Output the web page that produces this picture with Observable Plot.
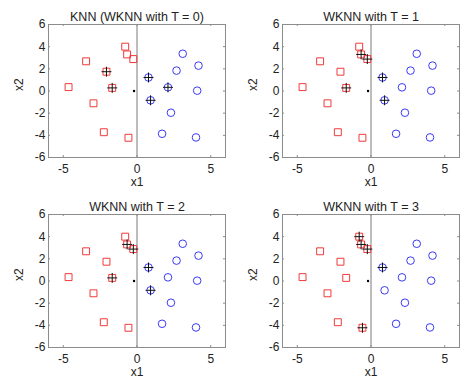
<!DOCTYPE html>
<html><head><meta charset="utf-8">
<script src="https://cdn.jsdelivr.net/npm/d3@7"></script>
<script src="https://cdn.jsdelivr.net/npm/@observablehq/plot@0.6"></script>
<style>
html,body{margin:0;padding:0;background:#fff;overflow:hidden;}
#wrap{position:relative;width:463px;height:380px;background:#fff;}
#wrap > svg{position:absolute;}
</style></head><body><div id="wrap"></div>
<script>
// Class 1 (red squares)
const redX = [-0.80, -0.67, -0.25, -3.45, -2.07, -1.68, -4.64, -2.95, -2.25, -0.58];
const redY = [ 4.00,  3.30,  2.88,  2.68,  1.74,  0.28,  0.35, -1.11, -3.72, -4.22];
// Class 2 (blue circles)
const blueX = [3.10, 4.17, 2.68, 0.78, 2.10, 4.08, 0.92, 2.30, 1.70, 4.00];
const blueY = [3.36, 2.29, 1.84, 1.22, 0.33, 0.03, -0.84, -1.96, -3.86, -4.19];
// Query point and decision boundary
const queryX = [-0.2];
const queryY = [0];
const boundaryX = [0];
// Panels
const titles = ["KNN (WKNN with T = 0)", "WKNN with T = 1", "WKNN with T = 2", "WKNN with T = 3"];
const redNeighbors = [[4, 5], [1, 2, 5], [1, 2, 5], [0, 1, 2, 9]];
const blueNeighbors = [[3, 4, 6], [3, 6], [3, 6], [3]];
// Axes
const xTicks = [-5, 0, 5];
const yTicks = [-6, -4, -2, 0, 2, 4, 6];
const xLabel = "x1";
const yLabel = "x2";

const red = redX.map((x, i) => ({x, y: redY[i]}));
const blue = blueX.map((x, i) => ({x, y: blueY[i]}));
const query = queryX.map((x, i) => ({x, y: queryY[i]}));

const wrap = document.getElementById("wrap");
const frameW = 177, frameH = 133;
const gray = "#8c8c8c";
const font = "Liberation Sans, Arial, Helvetica, sans-serif";

titles.forEach((title, p) => {
  const col = p % 2, row = Math.floor(p / 2);
  const left = col === 0 ? 0 : 234;
  const top = row === 0 ? 0 : 190;
  const width = col === 0 ? 231 : 229;
  const marginLeft = 48;
  const marginRight = width - marginLeft - frameW;
  const nn = [
    ...redNeighbors[p].map(i => red[i]),
    ...blueNeighbors[p].map(i => blue[i])
  ];
  const svg = Plot.plot({
    width, height: 190,
    marginLeft, marginRight, marginTop: 24, marginBottom: 33,
    style: {fontFamily: font, fontSize: "12px", color: "#222", background: "white", overflow: "visible"},
    x: {domain: [-6, 6]},
    y: {domain: [-6, 6]},
    marks: [
      Plot.ruleX(boundaryX, {stroke: "#7a7a7a", strokeWidth: 1}),
      Plot.tickX(xTicks, {x: d => d, insetTop: frameH - 2, stroke: gray}),
      Plot.tickX(xTicks, {x: d => d, insetBottom: frameH - 2, stroke: gray}),
      Plot.tickY(yTicks, {y: d => d, insetRight: frameW - 2, stroke: gray}),
      Plot.tickY(yTicks, {y: d => d, insetLeft: frameW - 2, stroke: gray}),
      Plot.frame({stroke: gray, strokeWidth: 1}),
      Plot.axisX({ticks: xTicks, tickSize: 0, tickPadding: 7, tickFormat: d => String(d), label: null, fontSize: 12, fill: "#222"}),
      Plot.axisY({ticks: yTicks, tickSize: 0, tickPadding: 3, tickFormat: d => String(d), label: null, fontSize: 12, fill: "#222"}),
      Plot.dot(red, {x: "x", y: "y", symbol: "square", r: 3.9, stroke: "#f03a3a", fill: "none", strokeWidth: 1}),
      Plot.dot(blue, {x: "x", y: "y", symbol: "circle", r: 3.8, stroke: "#3a3af5", fill: "none", strokeWidth: 1}),
      Plot.dot(nn, {x: "x", y: "y", symbol: "plus", r: 3.3, stroke: "#111", strokeWidth: 1}),
      Plot.dot(query, {x: "x", y: "y", r: 1.2, fill: "#000", stroke: null}),
      Plot.text([title], {frameAnchor: "top", dy: -12, fontSize: 12.5, fill: "#222"}),
      Plot.text([xLabel], {frameAnchor: "bottom", dy: 28.5, fontSize: 12, fill: "#222"}),
      Plot.text([yLabel], {frameAnchor: "left", dx: -29, rotate: -90, fontSize: 12, fill: "#222"})
    ]
  });
  svg.style.left = left + "px";
  svg.style.top = top + "px";
  wrap.appendChild(svg);
});
</script></body></html>
